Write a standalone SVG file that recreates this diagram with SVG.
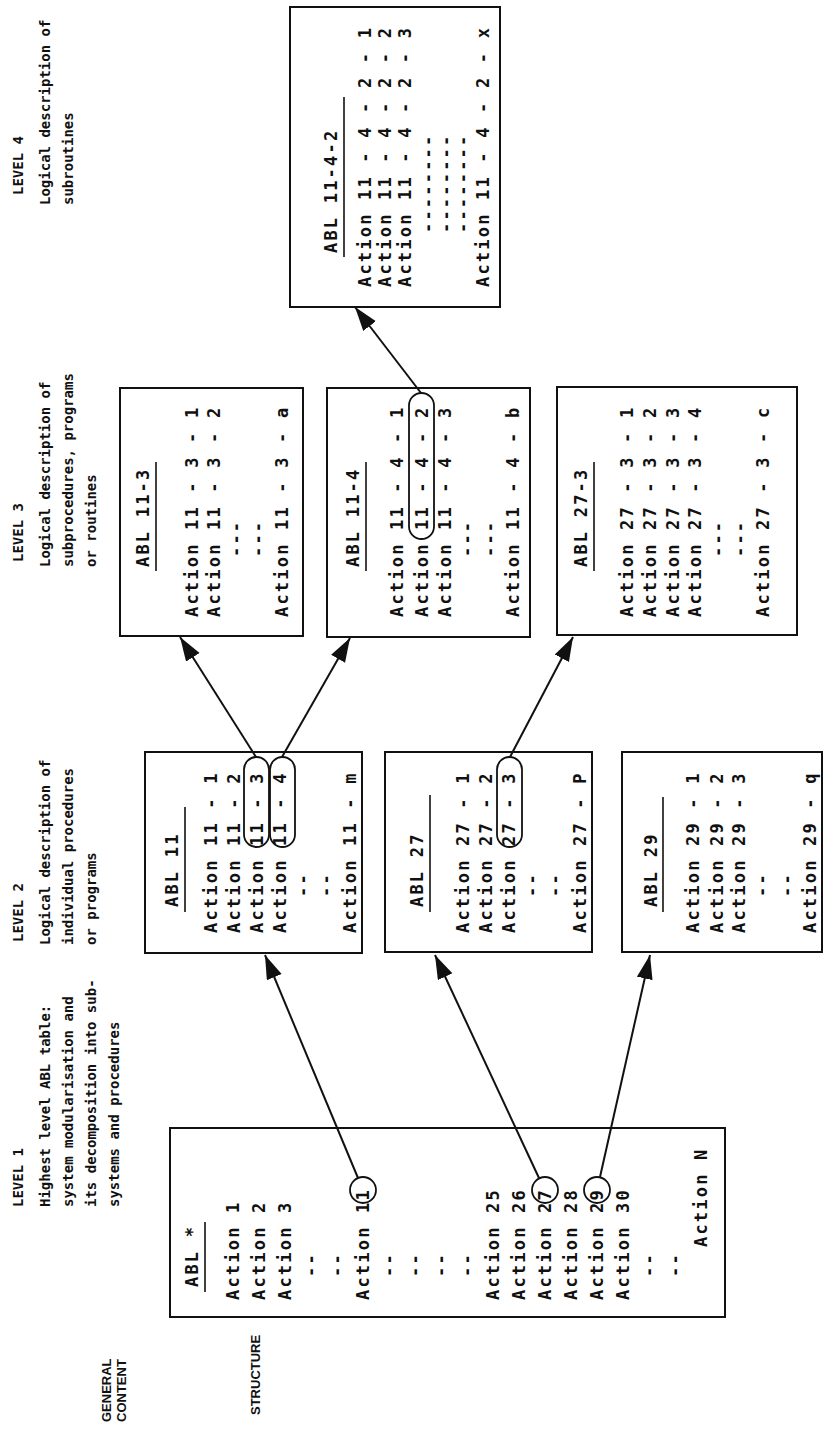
<svg xmlns="http://www.w3.org/2000/svg" width="825" height="1447" viewBox="0 0 825 1447">
<style>
.bx{fill:none;stroke:#111;stroke-width:2}
.t{font-family:"DejaVu Sans Mono","Liberation Mono",monospace;font-weight:bold;font-size:17px;letter-spacing:2.2px;fill:#111}
.d{font-family:"DejaVu Sans Mono","Liberation Mono",monospace;font-weight:bold;font-size:14px;fill:#111}
.h{font-family:"Liberation Sans",Arial,sans-serif;font-weight:bold;font-size:13px;fill:#111}
.ul{stroke:#111;stroke-width:1.6}
.ring{fill:none;stroke:#111;stroke-width:1.8}
.ar{stroke:#111;stroke-width:2;fill:none;marker-end:url(#ah)}
</style>
<defs>
<marker id="ah" markerUnits="userSpaceOnUse" markerWidth="26" markerHeight="18" refX="24" refY="8" orient="auto">
<path d="M0,0 L24,8 L0,16 z" fill="#111"/>
</marker>
</defs>
<rect width="825" height="1447" fill="#fff"/>
<g transform="translate(0,1447) rotate(-90)" xml:space="preserve">
<g id="labels">
<text class="h" x="25" y="111">GENERAL</text>
<text class="h" x="25" y="126">CONTENT</text>
<text class="h" x="32" y="260">STRUCTURE</text>
<text class="d" x="240" y="23">LEVEL 1</text>
<text class="d" x="240" y="50">Highest level ABL table:</text>
<text class="d" x="240" y="73">system modularisation and</text>
<text class="d" x="240" y="96">its decomposition into sub-</text>
<text class="d" x="240" y="119">systems and procedures</text>
<text class="d" x="505" y="23">LEVEL  2</text>
<text class="d" x="502" y="50">Logical description of</text>
<text class="d" x="502" y="73">individual procedures</text>
<text class="d" x="502" y="96">or programs</text>
<text class="d" x="885" y="23">LEVEL  3</text>
<text class="d" x="880" y="50">Logical description of</text>
<text class="d" x="880" y="73">subprocedures, programs</text>
<text class="d" x="880" y="96">or routines</text>
<text class="d" x="1252" y="23">LEVEL  4</text>
<text class="d" x="1242" y="50">Logical description of</text>
<text class="d" x="1242" y="73">subroutines</text>
</g>
<g id="abl-top">
<rect class="bx" x="130" y="170" width="189" height="555"/>
<text class="t" x="160" y="198">ABL  *</text>
<line class="ul" x1="155" y1="205" x2="225" y2="205"/>
<text class="t" x="147" y="239">Action  1</text>
<text class="t" x="147" y="265">Action  2</text>
<text class="t" x="147" y="291">Action  3</text>
<text class="t" x="170" y="317">--</text>
<text class="t" x="170" y="343">--</text>
<text class="t" x="147" y="369">Action  11</text>
<circle class="ring" cx="257" cy="363" r="13"/>
<text class="t" x="170" y="395">--</text>
<text class="t" x="170" y="421">--</text>
<text class="t" x="170" y="447">--</text>
<text class="t" x="170" y="473">--</text>
<text class="t" x="147" y="499">Action  25</text>
<text class="t" x="147" y="525">Action  26</text>
<text class="t" x="147" y="551">Action  27</text>
<circle class="ring" cx="257" cy="545" r="13"/>
<text class="t" x="147" y="577">Action  28</text>
<text class="t" x="147" y="603">Action  29</text>
<circle class="ring" cx="257" cy="597" r="13"/>
<text class="t" x="147" y="629">Action  30</text>
<text class="t" x="170" y="655">--</text>
<text class="t" x="170" y="681">--</text>
<text class="t" x="200" y="707">Action  N</text>
</g>
<g id="abl-11">
<rect class="bx" x="494" y="145" width="201" height="217"/>
<text class="t" x="540" y="178">ABL  11</text>
<line class="ul" x1="535" y1="185" x2="640" y2="185"/>
<text class="t" x="514" y="217">Action  11 - 1</text>
<text class="t" x="514" y="240">Action  11 - 2</text>
<text class="t" x="514" y="263">Action  11 - 3</text>
<text class="t" x="514" y="286">Action  11 - 4</text>
<text class="t" x="550" y="309">--</text>
<text class="t" x="550" y="332">--</text>
<text class="t" x="514" y="356">Action  11 - m</text>
<rect class="ring" x="600" y="244" width="90" height="25" rx="12.5"/>
<rect class="ring" x="600" y="270" width="90" height="25" rx="12.5"/>
</g>
<g id="abl-27">
<rect class="bx" x="495" y="385" width="200" height="207"/>
<text class="t" x="540" y="423">ABL  27</text>
<line class="ul" x1="535" y1="430" x2="652" y2="430"/>
<text class="t" x="514" y="469">Action  27 - 1</text>
<text class="t" x="514" y="492">Action  27 - 2</text>
<text class="t" x="514" y="515">Action  27 - 3</text>
<text class="t" x="550" y="538">--</text>
<text class="t" x="550" y="561">--</text>
<text class="t" x="514" y="586">Action  27 - P</text>
<rect class="ring" x="600" y="497" width="90" height="25" rx="12.5"/>
</g>
<g id="abl-29">
<rect class="bx" x="495" y="622" width="200" height="200"/>
<text class="t" x="540" y="657">ABL  29</text>
<line class="ul" x1="535" y1="663" x2="650" y2="663"/>
<text class="t" x="514" y="699">Action  29 - 1</text>
<text class="t" x="514" y="723">Action  29 - 2</text>
<text class="t" x="514" y="745">Action  29 - 3</text>
<text class="t" x="550" y="768">--</text>
<text class="t" x="550" y="793">--</text>
<text class="t" x="514" y="816">Action  29 - q</text>
</g>
<g id="abl-11-3">
<rect class="bx" x="811" y="120" width="248" height="183"/>
<text class="t" x="880" y="149">ABL 11-3</text>
<line class="ul" x1="876" y1="156" x2="985" y2="156"/>
<text class="t" x="830" y="198">Action 11 - 3 - 1</text>
<text class="t" x="830" y="220">Action 11 - 3 - 2</text>
<text class="t" x="890" y="242">---</text>
<text class="t" x="890" y="264">---</text>
<text class="t" x="830" y="288">Action 11 - 3 - a</text>
</g>
<g id="abl-11-4">
<rect class="bx" x="810" y="327" width="249" height="203"/>
<text class="t" x="880" y="359">ABL 11-4</text>
<line class="ul" x1="876" y1="366" x2="985" y2="366"/>
<text class="t" x="830" y="403">Action 11 - 4 - 1</text>
<text class="t" x="830" y="428">Action 11 - 4 - 2</text>
<text class="t" x="830" y="451">Action 11 - 4 - 3</text>
<text class="t" x="890" y="473">---</text>
<text class="t" x="890" y="496">---</text>
<text class="t" x="830" y="519">Action 11 - 4 - b</text>
<rect class="ring" x="908" y="409" width="146" height="25" rx="12.5"/>
</g>
<g id="abl-27-3">
<rect class="bx" x="812" y="557" width="248" height="240"/>
<text class="t" x="880" y="587">ABL 27-3</text>
<line class="ul" x1="876" y1="594" x2="985" y2="594"/>
<text class="t" x="830" y="633">Action 27 - 3 - 1</text>
<text class="t" x="830" y="656">Action 27 - 3 - 2</text>
<text class="t" x="830" y="679">Action 27 - 3 - 3</text>
<text class="t" x="830" y="701">Action 27 - 3 - 4</text>
<text class="t" x="890" y="724">---</text>
<text class="t" x="890" y="746">---</text>
<text class="t" x="830" y="769">Action 27 - 3 - c</text>
</g>
<g id="abl-11-4-2">
<rect class="bx" x="1140" y="290" width="300" height="210"/>
<text class="t" x="1194" y="337">ABL  11-4-2</text>
<line class="ul" x1="1190" y1="344" x2="1350" y2="344"/>
<text class="t" x="1160" y="371">Action 11 - 4 - 2 - 1</text>
<text class="t" x="1160" y="391">Action 11 - 4 - 2 - 2</text>
<text class="t" x="1160" y="411">Action 11 - 4 - 2 - 3</text>
<text class="t" x="1214" y="434">--------</text>
<text class="t" x="1214" y="452">--------</text>
<text class="t" x="1214" y="469">--------</text>
<text class="t" x="1160" y="489">Action 11 - 4 - 2 - x</text>
</g>
<g id="connectors">
<line class="ar" x1="269" y1="358" x2="492" y2="265"/>
<line class="ar" x1="269" y1="539" x2="492" y2="435"/>
<line class="ar" x1="270" y1="600" x2="492" y2="650"/>
<line class="ar" x1="690" y1="256" x2="810" y2="180"/>
<line class="ar" x1="690" y1="282" x2="809" y2="350"/>
<line class="ar" x1="690" y1="510" x2="810" y2="573"/>
<line class="ar" x1="1054" y1="421" x2="1140" y2="355"/>
</g>
</g>
</svg>
